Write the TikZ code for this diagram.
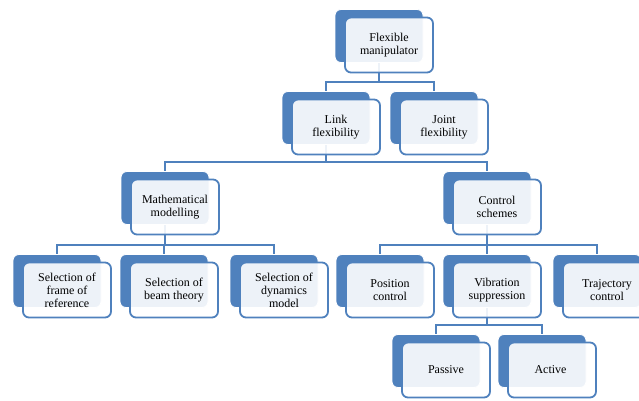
\documentclass[tikz,border=0pt]{standalone}
\usepackage{fontspec}
\setmainfont{Liberation Serif}
\usetikzlibrary{backgrounds}
\definecolor{smartblue}{HTML}{4F81BD}
\begin{document}
\begin{tikzpicture}
		[
			x=1pt, y=-1pt,
			back/.style={rectangle, rounded corners=6pt, draw=white, line width=0.8pt, fill=smartblue, minimum width=88pt, minimum height=53pt},
			front/.style={rectangle, rounded corners=6pt, draw=smartblue, line width=1.8pt, fill=white, fill opacity=0.9, text opacity=1, minimum width=88pt, minimum height=55pt, align=center, font=\fontsize{12}{13}\selectfont},
			link/.style={draw=smartblue, line width=1.8pt},
		]
		\clip (0,0) rectangle (639,401);

		% Nodes
		\foreach \name/\x/\y/\text in
		{
			flex/379/36/{Flexible\\manipulator},
			linkflex/326/118/{Link\\flexibility},
			joint/434/118/{Joint\\flexibility},
			math/165/198/{Mathematical\\modelling},
			ctrl/487/198/{Control\\schemes},
			frame/57/281/{Selection of\\frame of\\reference},
			beam/164/281/{Selection of\\beam theory},
			dyn/274/281/{Selection of\\dynamics\\model},
			pos/380/281/{Position\\control},
			vib/487/281/{Vibration\\suppression},
			traj/597/281/{Trajectory\\control},
			pass/436/361/{Passive},
			act/542/361/{Active}
		}
		{
			\node[back] (\name) at (\x,\y) {};
			\node[front] (\name-t) at ([shift={(10,9)}]\name.center) {\text};
		}

		% Edges
		\begin{scope}[on background layer]
		\foreach \u/\v in
		{
			flex/linkflex,
			flex/joint,
			linkflex/math,
			linkflex/ctrl,
			math/frame,
			math/beam,
			math/dyn,
			ctrl/pos,
			ctrl/vib,
			ctrl/traj,
			vib/pass,
			vib/act}
			\draw[link] (\u.south) |- ([yshift=9pt]\v.north) -- (\v.north);
		\end{scope}

		\end{tikzpicture}
\end{document}
